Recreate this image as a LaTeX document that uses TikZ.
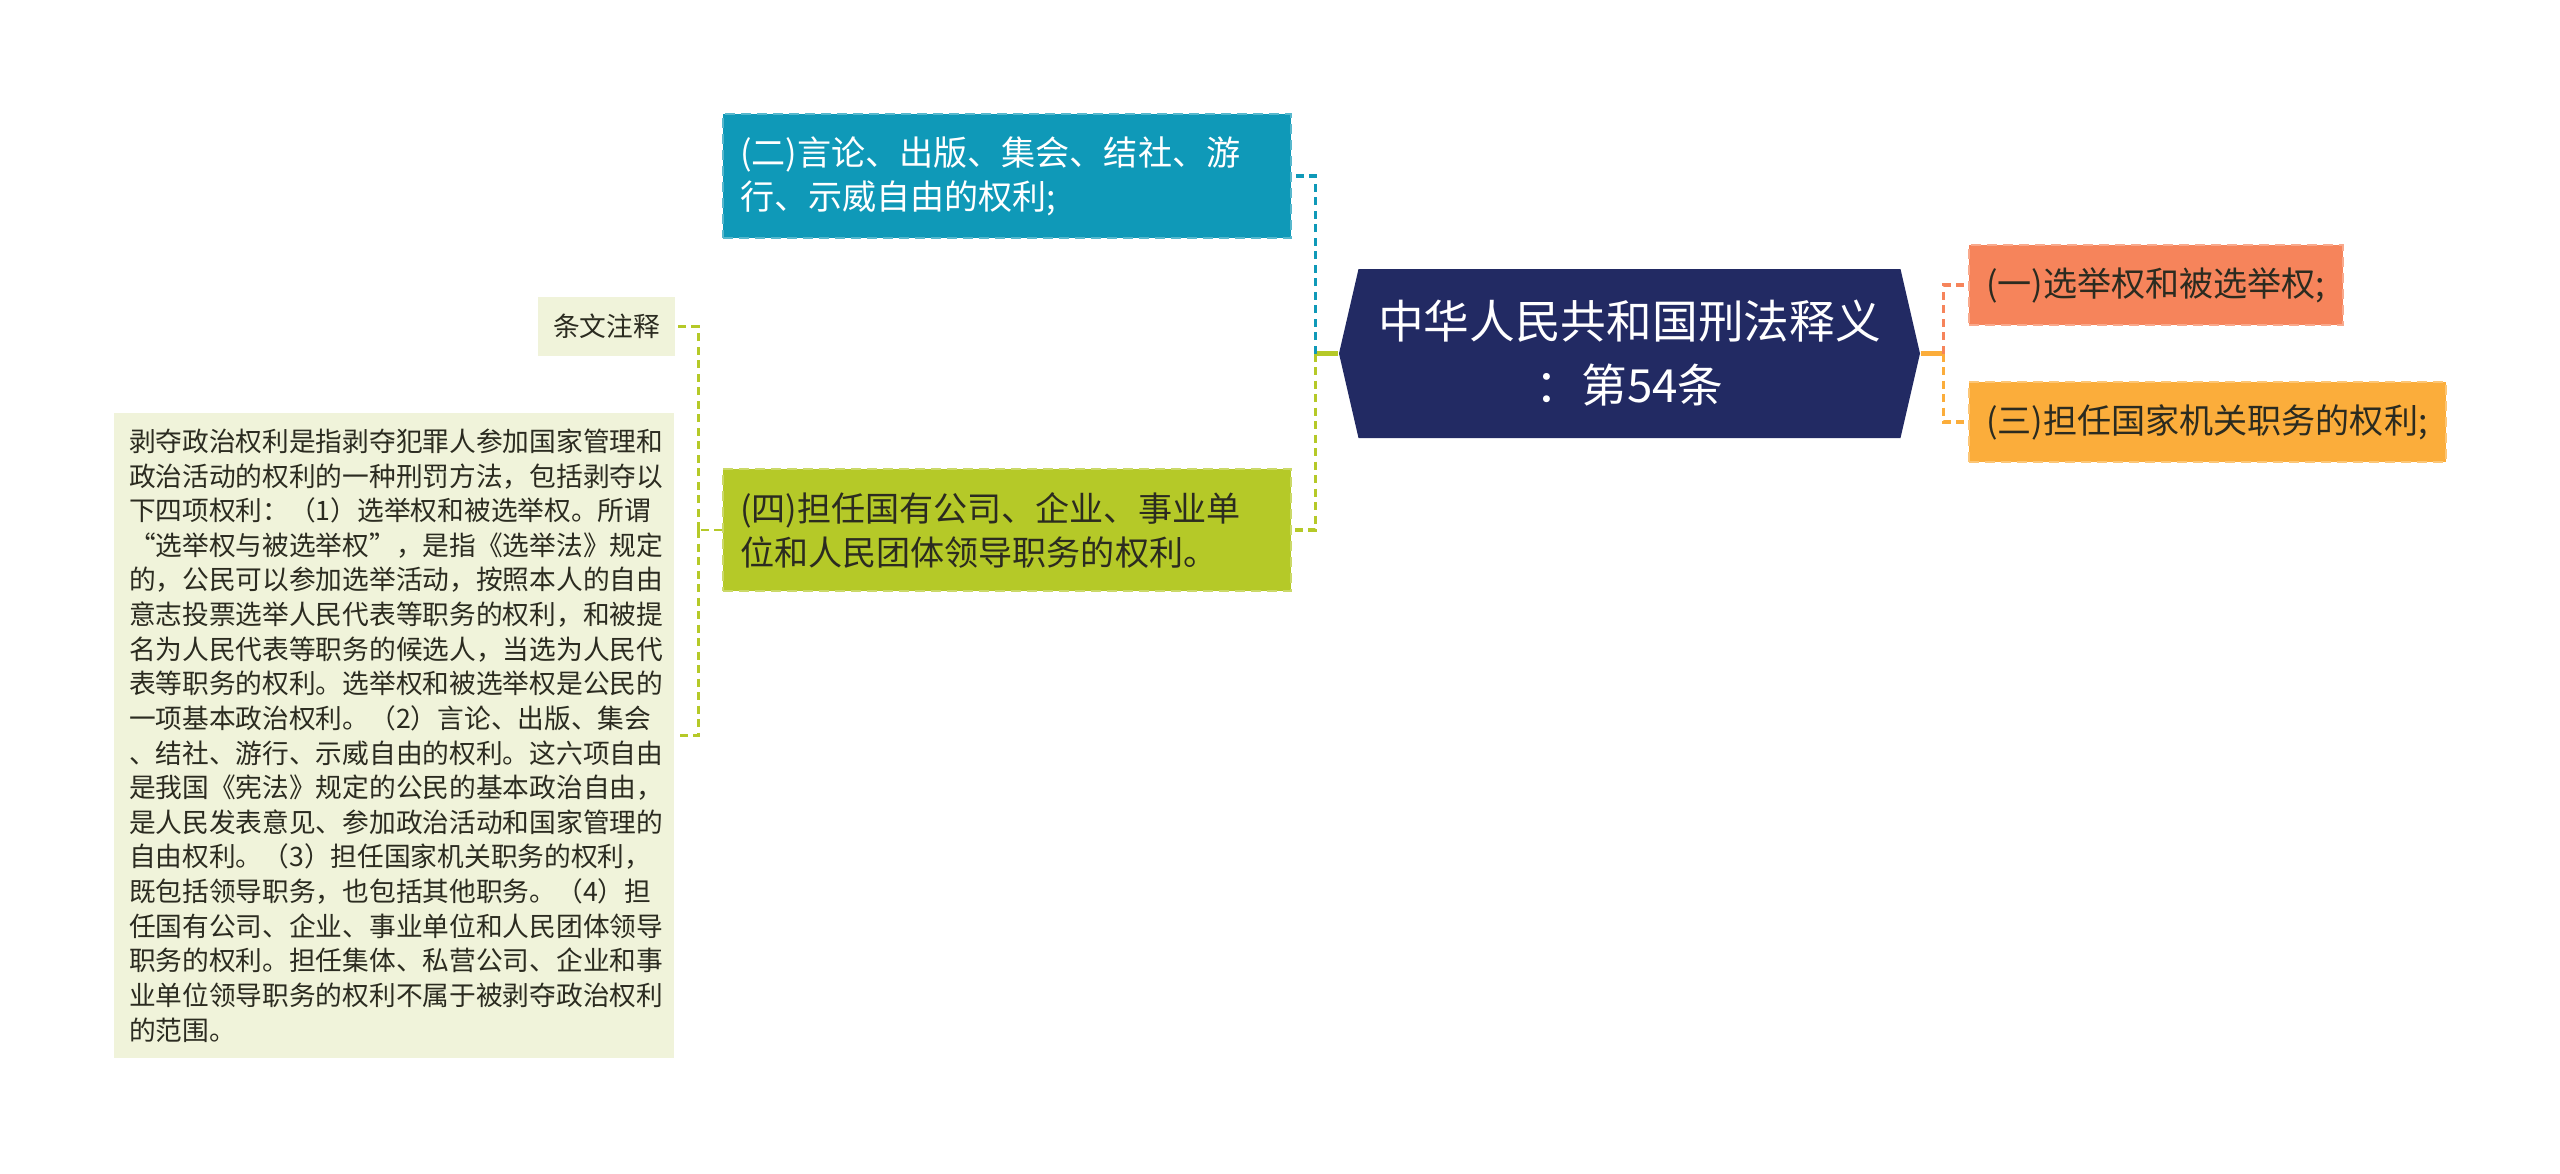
\documentclass[tikz,border=0pt]{standalone}
\usepackage{fontspec}
\newfontfamily\cjk{Noto Sans CJK SC}
\usetikzlibrary{shapes.symbols}
\definecolor{navy}{HTML}{222A63}
\definecolor{tealc}{HTML}{0F99B8}
\definecolor{limec}{HTML}{B5C928}
\definecolor{salmonc}{HTML}{F6845B}
\definecolor{orangec}{HTML}{FBAD3B}
\definecolor{paper}{HTML}{F0F3DA}
\definecolor{ink}{HTML}{2B2B20}
\tikzset{
  leaf/.style={rectangle, inner xsep=1.7mm, inner ysep=0pt, align=left, fill=#1, draw=#1!70!white,
    dash pattern=on 1mm off 0.6mm, line width=0.4pt, font=\cjk\fontsize{9.7}{12.5}\selectfont},
  link/.style={draw=#1, line width=0.9pt, dash pattern=on 0.8mm off 0.55mm},
  gloss/.style={rectangle, fill=paper, inner xsep=1.5mm, inner ysep=0pt, text=ink,
    font=\cjk\fontsize{7.6}{9.85}\selectfont}
}
\begin{document}
\begin{tikzpicture}[x=0.1mm, y=-0.1mm]
\useasboundingbox (0,0) rectangle (2560,1173);
\node[signal, signal to=west and east, signal pointer angle=154, fill=navy, inner sep=0pt,
  minimum width=58.1mm, minimum height=16.9mm, text=white, align=center,
  font=\cjk\fontsize{13}{18.2}\selectfont] (law) at (1629.5,353.5) {中华人民共和国刑法释义\\：第54条};
\node[leaf=tealc, text=white, text width=53.4mm, minimum height=12.4mm] (two) at (1007,176)
  {(二)言论、出版、集会、结社、游\\行、示威自由的权利;};
\node[leaf=limec, text=ink, text width=53.4mm, minimum height=12.2mm] (four) at (1007,530)
  {(四)担任国有公司、企业、事业单\\位和人民团体领导职务的权利。};
\node[leaf=salmonc, text=ink, text width=34mm, minimum height=8mm] (one) at (2156,285)
  {(一)选举权和被选举权;};
\node[leaf=orangec, text=ink, text width=44.3mm, minimum height=8mm] (three) at (2207.5,422)
  {(三)担任国家机关职务的权利;};
\node[gloss, minimum width=13.3mm, minimum height=5.9mm] (title) at (606.5,326.5) {条文注释};
\node[gloss, text width=53mm, minimum height=64.5mm, align=left] (detail) at (394,735.5)
  {剥夺政治权利是指剥夺犯罪人参加国家管理和\\
   政治活动的权利的一种刑罚方法，包括剥夺以\\
   下四项权利：（1）选举权和被选举权。所谓\\
   “选举权与被选举权”，是指《选举法》规定\\
   的，公民可以参加选举活动，按照本人的自由\\
   意志投票选举人民代表等职务的权利，和被提\\
   名为人民代表等职务的候选人，当选为人民代\\
   表等职务的权利。选举权和被选举权是公民的\\
   一项基本政治权利。（2）言论、出版、集会\\
   、结社、游行、示威自由的权利。这六项自由\\
   是我国《宪法》规定的公民的基本政治自由，\\
   是人民发表意见、参加政治活动和国家管理的\\
   自由权利。（3）担任国家机关职务的权利，\\
   既包括领导职务，也包括其他职务。（4）担\\
   任国有公司、企业、事业单位和人民团体领导\\
   职务的权利。担任集体、私营公司、企业和事\\
   业单位领导职务的权利不属于被剥夺政治权利\\
   的范围。};
\coordinate (lj) at ([xshift=-2.3mm]law.west);
\coordinate (rj) at ([xshift=2.3mm]law.east);
\coordinate (bj) at ([xshift=-2.4mm]four.west);
\draw[limec, line width=1.2pt] (law.west) -- (lj);
\draw[link=tealc] (lj) |- (two.east);
\draw[link=limec] (lj) |- (four.east);
\draw[orangec, line width=1.2pt] (law.east) -- (rj);
\draw[link=salmonc] (rj) |- (one.west);
\draw[link=orangec] (rj) |- (three.west);
\draw[link=limec, line width=0.7pt] (four.west) -- (bj);
\draw[link=limec, line width=0.7pt] (bj) |- (title.east);
\draw[link=limec, line width=0.7pt] (bj) |- (detail.east);
\end{tikzpicture}
\end{document}
